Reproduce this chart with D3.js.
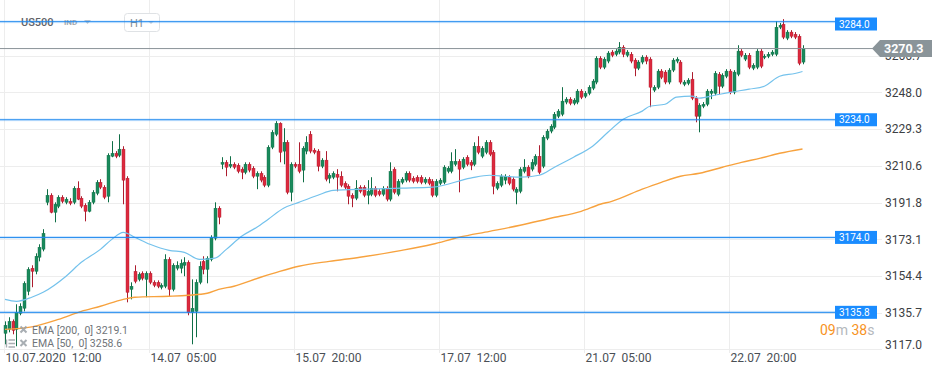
<!DOCTYPE html>
<html><head><meta charset="utf-8">
<script src="https://cdn.jsdelivr.net/npm/d3@7"></script>
<style>
html,body{margin:0;padding:0;background:#fff;}
svg{display:block;font-family:Roboto,"Noto Sans",sans-serif;}
</style></head><body>
<svg id="c" width="945" height="375"></svg>
<script>
// ---- data (hourly US500 candles) ----
const opens=[
3125.1,3127.1,3131.2,3127.1,3135.3,3137.9,3146.5,3158.3,3156.7,3163.9,
3168.0,3191.9,3195.5,3186.8,3189.9,3194.5,3191.9,3192.4,3191.9,3199.1,
3194.0,3190.4,3187.3,3191.9,3196.5,3202.1,3199.6,3195.0,3215.4,3216.9,
3215.9,3219.0,3204.2,3147.5,3156.7,3152.6,3155.7,3152.6,3155.7,3151.1,
3151.1,3148.6,3149.1,3162.8,3147.5,3158.3,3158.3,3159.8,3161.3,3135.8,
3136.3,3151.1,3161.8,3157.7,3162.8,3173.6,3188.9,3211.3,3212.3,3210.3,
3211.3,3210.8,3208.8,3207.2,3211.3,3209.3,3205.2,3206.7,3204.7,3200.6,
3220.0,3226.6,3232.2,3218.0,3222.5,3197.0,3211.3,3211.3,3208.3,3218.0,
3226.6,3218.5,3218.0,3210.3,3213.4,3204.2,3204.7,3206.2,3205.2,3201.6,
3200.1,3195.5,3194.0,3199.6,3199.6,3195.5,3196.0,3199.1,3197.5,3196.0,
3199.1,3193.5,3208.8,3196.0,3202.1,3203.2,3206.7,3204.2,3204.7,3204.7,
3202.1,3203.7,3202.6,3195.5,3201.6,3202.1,3207.7,3207.7,3211.3,3212.8,
3209.8,3214.9,3212.3,3211.3,3220.5,3215.4,3217.4,3222.5,3217.4,3199.1,
3200.6,3203.2,3204.7,3203.7,3197.0,3197.5,3207.7,3209.8,3208.8,3211.3,
3215.4,3210.3,3224.6,3228.2,3230.2,3235.8,3236.8,3243.0,3244.5,3242.4,
3243.0,3248.6,3246.0,3247.5,3250.1,3253.2,3265.4,3260.8,3263.9,3268.5,
3267.4,3268.5,3271.0,3266.9,3267.4,3264.4,3260.3,3263.4,3265.9,3264.9,
3249.1,3250.6,3258.8,3258.3,3253.2,3259.3,3263.9,3263.4,3252.1,3252.6,
3254.7,3245.0,3235.8,3240.9,3241.9,3247.5,3247.5,3257.2,3251.1,3256.2,
3258.8,3248.1,3257.2,3269.0,3264.9,3266.9,3260.3,3260.8,3269.0,3265.9,
3266.4,3267.4,3267.4,3281.2,3282.7,3275.6,3278.7,3277.6,3276.6,3263.4];
const highs=[
3131.2,3133.3,3132.2,3139.9,3140.4,3151.6,3158.8,3159.8,3165.9,3170.5,
3178.2,3198.6,3196.5,3191.9,3195.5,3195.5,3194.5,3194.0,3200.1,3202.6,
3195.0,3191.4,3193.0,3198.1,3203.2,3203.7,3200.6,3216.9,3223.1,3218.0,
3226.6,3220.5,3205.2,3151.1,3159.8,3156.2,3156.7,3156.7,3156.7,3152.1,
3152.1,3150.6,3165.4,3163.9,3160.8,3161.8,3162.8,3163.9,3162.3,3152.6,
3152.6,3161.8,3164.4,3164.4,3175.1,3191.9,3189.9,3214.9,3213.4,3215.4,
3212.3,3211.8,3209.8,3212.3,3212.3,3210.3,3207.7,3207.7,3205.7,3221.0,
3228.7,3233.3,3232.7,3229.7,3223.6,3212.3,3212.3,3222.5,3220.5,3225.6,
3228.2,3219.5,3219.0,3214.4,3218.0,3206.7,3207.7,3208.8,3207.7,3202.6,
3201.1,3196.5,3203.2,3200.6,3200.6,3203.2,3204.7,3200.1,3198.6,3200.1,
3200.1,3212.3,3209.8,3203.7,3204.7,3207.7,3207.7,3205.2,3205.7,3205.7,
3204.7,3204.7,3203.7,3203.7,3204.2,3210.8,3210.3,3217.4,3219.0,3213.9,
3214.9,3215.9,3213.4,3222.5,3225.6,3220.5,3223.6,3223.6,3218.5,3202.6,
3206.2,3206.2,3205.7,3204.7,3199.6,3209.8,3213.9,3210.8,3213.9,3216.4,
3221.0,3226.1,3229.2,3231.7,3237.9,3239.4,3250.6,3245.5,3245.5,3245.0,
3249.6,3249.6,3248.6,3251.6,3254.7,3266.4,3266.4,3265.9,3269.0,3269.5,
3270.0,3273.6,3272.0,3269.5,3268.5,3265.4,3264.4,3266.9,3266.9,3265.9,
3251.6,3259.8,3259.8,3259.3,3260.3,3265.4,3265.9,3264.4,3254.2,3255.2,
3258.3,3246.0,3242.4,3243.0,3249.6,3249.6,3258.8,3258.3,3257.7,3259.8,
3259.8,3259.3,3272.0,3270.0,3268.0,3268.0,3262.8,3270.0,3270.0,3267.4,
3268.5,3269.5,3284.3,3283.3,3285.3,3279.7,3279.7,3278.7,3277.6,3272.0];
const lows=[
3119.5,3125.6,3124.6,3118.5,3134.3,3136.3,3144.5,3148.6,3155.2,3161.8,
3166.9,3190.4,3186.3,3181.7,3188.9,3191.4,3190.9,3190.4,3190.9,3193.0,
3188.9,3182.2,3186.8,3190.9,3195.5,3198.6,3193.5,3191.9,3214.9,3214.4,
3214.9,3190.9,3140.9,3142.4,3150.6,3151.6,3152.1,3143.5,3150.1,3148.6,
3148.1,3147.5,3148.1,3144.0,3146.5,3157.2,3155.7,3154.2,3134.3,3119.5,
3123.1,3150.1,3155.2,3150.6,3161.8,3172.5,3180.7,3208.8,3205.2,3209.3,
3208.8,3206.7,3203.7,3206.2,3207.2,3204.2,3198.6,3202.1,3199.6,3199.6,
3219.0,3225.6,3212.3,3211.3,3196.0,3192.4,3209.3,3206.7,3202.1,3216.4,
3216.9,3216.4,3207.7,3209.3,3202.6,3201.6,3203.7,3197.5,3199.6,3198.6,
3190.9,3189.4,3193.0,3196.5,3194.5,3190.9,3195.0,3194.5,3195.0,3195.0,
3192.4,3192.4,3196.0,3195.0,3201.1,3202.1,3202.1,3201.6,3201.6,3201.1,
3201.1,3200.6,3194.5,3194.5,3200.6,3201.1,3206.7,3206.7,3210.3,3197.0,
3208.8,3210.3,3208.3,3210.3,3216.4,3214.4,3216.4,3215.4,3196.0,3198.1,
3199.6,3201.1,3200.6,3197.5,3190.9,3196.5,3206.7,3204.2,3207.7,3210.3,
3206.2,3209.3,3223.6,3227.1,3229.2,3234.8,3235.8,3241.9,3241.4,3241.4,
3241.9,3244.5,3245.0,3246.5,3249.1,3252.1,3259.8,3259.8,3262.8,3265.9,
3266.4,3267.4,3265.9,3265.9,3262.8,3256.2,3259.3,3262.3,3262.3,3240.4,
3248.1,3249.6,3254.7,3252.1,3252.1,3258.3,3262.8,3252.1,3251.1,3251.6,
3244.0,3232.7,3227.6,3239.9,3240.9,3244.5,3246.5,3247.0,3250.1,3255.2,
3247.0,3247.0,3256.2,3265.9,3263.9,3259.8,3259.3,3259.8,3260.3,3264.9,
3265.4,3266.4,3266.4,3280.2,3275.1,3274.6,3275.6,3275.1,3261.8,3262.3];
const closes=[
3129.2,3131.2,3126.6,3135.8,3138.9,3150.6,3157.7,3156.7,3164.4,3169.0,
3176.1,3195.5,3186.8,3190.9,3194.5,3192.4,3193.5,3191.4,3199.1,3193.5,
3189.9,3187.3,3191.9,3197.0,3202.1,3199.6,3194.5,3215.9,3216.9,3215.4,
3219.0,3203.2,3146.0,3149.1,3151.6,3155.2,3153.2,3155.7,3151.1,3149.6,
3149.1,3149.6,3162.8,3147.5,3159.8,3159.8,3160.8,3161.3,3135.8,3137.9,
3151.1,3159.3,3157.7,3163.4,3174.1,3188.9,3184.3,3212.3,3209.8,3211.3,
3209.8,3207.7,3207.2,3211.3,3208.3,3205.2,3206.7,3203.2,3200.6,3220.0,
3227.6,3232.2,3217.4,3222.5,3197.0,3211.3,3210.3,3207.7,3219.5,3222.5,
3218.0,3217.4,3210.3,3213.4,3203.7,3205.7,3206.7,3204.7,3200.6,3199.6,
3195.0,3194.0,3199.1,3197.5,3195.5,3197.5,3199.1,3195.5,3196.0,3199.1,
3193.5,3207.7,3197.0,3202.6,3203.7,3206.7,3203.2,3202.6,3202.6,3202.1,
3203.7,3201.6,3195.5,3202.6,3203.2,3209.8,3209.3,3212.8,3212.8,3208.8,
3213.9,3211.3,3210.8,3220.5,3217.4,3219.5,3222.5,3216.4,3200.1,3201.6,
3205.2,3205.2,3201.6,3198.6,3198.6,3208.8,3209.8,3205.2,3212.3,3215.4,
3207.2,3225.1,3228.2,3230.7,3236.8,3238.4,3243.5,3244.5,3242.4,3244.0,
3248.6,3245.5,3247.5,3250.6,3253.7,3265.4,3260.8,3264.9,3268.0,3266.9,
3269.0,3271.0,3267.4,3268.5,3263.9,3260.3,3263.4,3265.9,3263.9,3250.6,
3250.6,3258.8,3255.7,3253.2,3259.3,3264.4,3264.9,3253.2,3253.2,3254.2,
3245.0,3235.8,3241.4,3241.9,3248.6,3248.6,3257.7,3251.1,3256.7,3258.8,
3248.1,3258.3,3269.0,3266.9,3266.9,3260.8,3261.8,3269.0,3261.3,3266.4,
3267.4,3268.5,3281.2,3282.2,3276.1,3278.7,3276.6,3276.1,3262.8,3270.3];

// EMA readings at candle indices
const ema50Idx=[0,3,7,10,16,20,25,28,31,34,38,43,47,51,55,58,62,66,69,73,77,82,86,95,104,112,122,127,131,135,140,144,149,154,158,162,167,169,173,176,180,182,186,190,195,199,203,207,209];
const ema50Val=[3142.4,3141.4,3143.5,3146.0,3154.2,3161.3,3167.9,3173.0,3176.6,3174.1,3170.5,3167.4,3166.4,3162.8,3163.4,3167.9,3174.6,3179.2,3183.3,3188.9,3191.9,3195.5,3198.0,3198.6,3199.1,3199.6,3204.2,3205.7,3205.2,3204.7,3205.7,3209.8,3214.9,3220.5,3227.6,3234.3,3238.4,3240.9,3241.9,3245.5,3246.0,3245.0,3246.5,3248.0,3249.6,3251.1,3256.2,3257.6,3258.6];
const ema200Idx=[0,7,14,20,25,31,34,43,48,53,56,60,67,72,77,85,93,104,112,119,127,135,143,151,156,159,167,172,177,182,188,193,198,203,209];
const ema200Val=[3127.1,3128.4,3132.2,3136.3,3138.9,3142.4,3143.5,3144.0,3144.5,3145.5,3147.5,3149.1,3153.7,3156.7,3159.3,3161.8,3163.9,3167.4,3170.5,3174.1,3177.1,3180.2,3183.8,3187.3,3190.9,3192.4,3198.6,3202.1,3205.2,3206.7,3209.8,3212.3,3214.4,3216.9,3219.1];

const yTicks=[3117.0,3135.7,3154.4,3173.1,3191.8,3210.6,3229.3,3248.0,3266.7];
const xTickIdx=[0,38,76,114,152,190];
const xTickLabels=["10.07.2020  12:00","14.07  05:00","15.07  20:00","17.07  12:00","21.07  05:00","22.07  20:00"];
const levels=[3284.0,3234.0,3174.0,3135.8];
const lastPrice=3270.3;
const legendNames=["EMA [200,  0]","EMA [50,  0]"];
const legendValues=[3219.1,3258.6];
const timerMin="09", timerSec="38";
const symbol="US500", symbolType="IND", timeframe="H1";

// ---- drawing ----
const svg=d3.select("#c");
const x=d3.scaleLinear().domain([0,closes.length-1]).range([5,802.5]);
const y=d3.scaleLinear().domain([3117,3284]).range([349.2,21.7]);
const f1=d3.format(".1f");

const GREEN="#1a8a5c", GREEN_D="#0f6e46", RED="#dc2a3e", RED_D="#ad1c2e";
const BLUE="#1a8cff", GRID="#ededed";

// gridlines
svg.append("g").selectAll("line").data(yTicks).join("line")
  .attr("x1",0).attr("x2",882)
  .attr("y1",d=>Math.round(y(d))+0.5).attr("y2",d=>Math.round(y(d))+0.5)
  .attr("stroke",GRID);
svg.append("g").selectAll("line").data(xTickIdx).join("line")
  .attr("x1",d=>Math.round(x(d))-0.5).attr("x2",d=>Math.round(x(d))-0.5)
  .attr("y1",0).attr("y2",353).attr("stroke",GRID);

// header
const hd=svg.append("g");
hd.append("text").attr("x",21).attr("y",25.5).attr("font-size",11).attr("font-weight",500)
  .attr("fill","#5f6368").text(symbol);
hd.append("text").attr("x",64).attr("y",24.5).attr("font-size",8).attr("font-weight",700)
  .attr("fill","#a4a8ac").text(symbolType);
hd.append("path").attr("d","M84,20 L91,20 L87.5,24 Z").attr("fill","#c4c8cc");
hd.append("rect").attr("x",124.5).attr("y",13.5).attr("width",35).attr("height",18).attr("rx",3)
  .attr("fill","#fff").attr("stroke","#dfe2e5");
hd.append("text").attr("x",130).attr("y",26.5).attr("font-size",11).attr("fill","#858a8f").text(timeframe);
hd.append("path").attr("d","M148,21 L154,21 L151,24 Z").attr("fill","#cdd0d3");

// candles
const data=closes.map((c,i)=>({i,o:opens[i],h:highs[i],l:lows[i],c}));
const cg=svg.append("g");
const cs=cg.selectAll("g").data(data).join("g");
cs.append("line")
  .attr("x1",d=>Math.round(x(d.i))+0.5).attr("x2",d=>Math.round(x(d.i))+0.5)
  .attr("y1",d=>y(d.h)).attr("y2",d=>y(d.l))
  .attr("stroke",d=>d.c>=d.o?GREEN_D:RED_D).attr("stroke-width",1);
cs.append("rect")
  .attr("x",d=>Math.round(x(d.i))-1)
  .attr("width",3)
  .attr("y",d=>y(Math.max(d.o,d.c)))
  .attr("height",d=>Math.max(1.2,Math.abs(y(d.o)-y(d.c))))
  .attr("fill",d=>d.c>=d.o?GREEN:RED)
  .attr("stroke",d=>d.c>=d.o?GREEN_D:RED_D).attr("stroke-width",0.4);

// EMA lines
const line=d3.line().x(d=>x(d[0])).y(d=>y(d[1])).curve(d3.curveMonotoneX);
svg.append("path").datum(ema200Idx.map((k,j)=>[k,ema200Val[j]]))
  .attr("d",line).attr("fill","none").attr("stroke","#f7a23e").attr("stroke-width",1.4);
svg.append("path").datum(ema50Idx.map((k,j)=>[k,ema50Val[j]]))
  .attr("d",line).attr("fill","none").attr("stroke","#74c2ec").attr("stroke-width",1.2);

// level lines
const lg=svg.append("g").selectAll("g").data(levels).join("g");
lg.append("line").attr("x1",0).attr("x2",836)
  .attr("y1",d=>y(d)).attr("y2",d=>y(d))
  .attr("stroke",BLUE).attr("stroke-opacity",0.14).attr("stroke-width",3);
lg.append("line").attr("x1",0).attr("x2",836)
  .attr("y1",d=>y(d)).attr("y2",d=>y(d))
  .attr("stroke","#1e88ee").attr("stroke-width",1);
lg.append("rect").attr("x",835).attr("width",42)
  .attr("y",d=>Math.max(17.5,y(d)-6.5)).attr("height",13)
  .attr("fill",BLUE);
lg.append("text").attr("x",839).attr("y",d=>Math.max(17.5,y(d)-6.5)+6.5).attr("dy","0.36em")
  .attr("font-size",10).attr("fill","#fff").text(d=>f1(d));

// y labels
svg.append("g").selectAll("text").data(yTicks).join("text")
  .attr("x",885).attr("y",(d,k)=>y(d)-(k===0?5:0)).attr("dy","0.36em")
  .attr("font-size",12).attr("fill","#3c4043").text(d=>f1(d));

// current price line and tag
const py=y(lastPrice);
svg.append("line").attr("x1",0).attr("x2",873).attr("y1",py).attr("y2",py)
  .attr("stroke","#8a9398").attr("stroke-width",1);
svg.append("path")
  .attr("d",`M872,${py} L880,${py-8.5} L932,${py-8.5} L932,${py+8.5} L880,${py+8.5} Z`)
  .attr("fill","#8a9499");
svg.append("text").attr("x",884).attr("y",py).attr("dy","0.36em")
  .attr("font-size",12.5).attr("font-weight",700).attr("fill","#fff").text(f1(lastPrice));

// x labels
svg.append("g").selectAll("text").data(xTickIdx).join("text")
  .attr("x",d=>Math.round(x(d))+0.5).attr("y",361.5)
  .attr("font-size",12).attr("fill","#4a4f55").style("white-space","pre")
  .text((d,k)=>xTickLabels[k]);

// legend
const leg=svg.append("g");
legendNames.forEach((n,k)=>{
  const cy=330+k*13.5;
  leg.append("path").attr("d",`M20.5,${cy-3.5} L26.5,${cy+2.5} M26.5,${cy-3.5} L20.5,${cy+2.5}`)
    .attr("stroke","#9aa0a6").attr("stroke-width",2).attr("opacity",0.85);
  leg.append("text").attr("x",32).attr("y",cy).attr("dy","0.36em").attr("font-size",10.5)
    .attr("fill","#6f7479").style("white-space","pre").text(n+" "+f1(legendValues[k]));
});
leg.append("path").attr("d","M6.5,339.5 V347.5 M8.5,340 H15 M8.5,343.5 H15 M8.5,347 H15")
  .attr("stroke","#9aa0a6").attr("stroke-width",1.4).attr("fill","none").attr("opacity",0.85);

// timer
const tm=svg.append("text").attr("x",820).attr("y",335).attr("font-size",14).style("white-space","pre");
tm.append("tspan").attr("fill","#f7931e").text(timerMin);
tm.append("tspan").attr("fill","#b4b8bc").text("m");
tm.append("tspan").attr("fill","#f7931e").text(" "+timerSec);
tm.append("tspan").attr("fill","#b4b8bc").text("s");
</script>
</body></html>
